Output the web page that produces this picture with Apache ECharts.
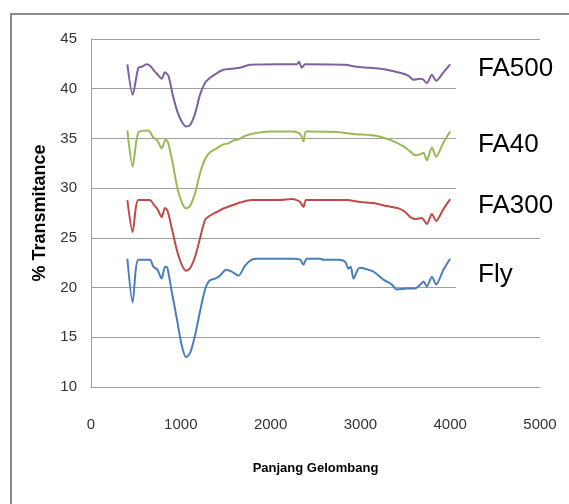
<!DOCTYPE html>
<html>
<head>
<meta charset="utf-8">
<script src="https://cdn.jsdelivr.net/npm/echarts@6/dist/echarts.min.js"></script>
<style>
html,body{margin:0;padding:0;background:#fff;}
#chart{width:569px;height:504px;}
</style>
</head>
<body>
<div id="chart"></div>
<script>
// Series labels (right side)
const seriesNames = ['Fly', 'FA300', 'FA40', 'FA500'];
// Axis ranges / ticks
const xTicks = [0, 1000, 2000, 3000, 4000, 5000];
const yTicks = [10, 15, 20, 25, 30, 35, 40, 45];

// Fly (blue)
const flyX = [405,464,527,657,694,739,787,824,850,899,955,1010,1058,1103,1159,1214,1270,1319,1382,1437,1504,1567,1642,1716,1790,1846,2032,2106,2254,2329,2366,2403,2552,2589,2756,2830,2867,2893,2923,2990,3053,3146,3257,3350,3406,3518,3610,3666,3703,3740,3796,3844,3925,4000];
const flyY = [22.9,18.5,22.8,22.8,22.1,21.8,20.9,22.1,22.0,19.6,16.9,14.2,13.0,13.4,15.2,17.6,19.8,20.7,20.9,21.2,21.8,21.6,21.2,22.2,22.8,22.9,22.9,22.9,22.9,22.8,22.3,22.9,22.9,22.8,22.8,22.6,21.9,22.1,20.9,22.0,21.9,21.6,20.8,20.3,19.8,19.9,19.9,20.3,20.6,20.1,21.1,20.3,21.8,22.9];

// FA300 (red)
const fa300X = [405,464,527,657,694,739,787,824,850,899,955,1010,1058,1103,1159,1214,1270,1319,1400,1474,1549,1660,1790,2106,2236,2291,2329,2366,2396,2849,2998,3146,3294,3424,3499,3554,3610,3684,3740,3796,3844,3925,4000];
const fa300Y = [28.8,25.6,28.8,28.8,28.4,27.9,27.1,28.0,27.8,26.0,23.8,22.3,21.7,21.95,23.1,24.95,26.8,27.2,27.6,27.95,28.2,28.55,28.8,28.8,28.9,28.8,28.6,28.1,28.8,28.8,28.6,28.5,28.2,27.97,27.6,27.1,26.9,27.0,26.4,27.4,26.7,27.9,28.9];

// FA40 (green)
const fa40X = [405,464,527,639,694,739,787,832,858,910,962,1010,1058,1103,1159,1214,1270,1326,1400,1474,1530,1586,1642,1716,1809,1994,2106,2254,2329,2366,2396,2737,2923,3183,3331,3480,3554,3610,3666,3703,3740,3796,3844,3925,4000];
const fa40Y = [35.8,32.15,35.6,35.8,35.1,34.8,34.0,34.9,34.6,32.5,30.0,28.6,27.97,28.2,29.5,31.5,32.9,33.6,34.0,34.4,34.5,34.8,34.9,35.25,35.5,35.7,35.7,35.7,35.45,34.7,35.7,35.65,35.45,35.25,34.85,34.2,33.7,33.3,33.4,33.55,32.8,34.1,33.15,34.6,35.7];

// FA500 (purple)
const fa500X = [405,464,527,564,620,657,694,739,787,824,862,910,962,1010,1058,1103,1159,1214,1270,1326,1400,1474,1567,1660,1772,2106,2292,2317,2347,2385,2830,2960,3109,3294,3461,3536,3591,3666,3703,3740,3796,3844,3925,4000];
const fa500Y = [42.45,39.4,42.1,42.2,42.45,42.3,41.9,41.45,41.0,41.65,41.3,39.4,37.7,36.7,36.2,36.35,37.5,39.4,40.6,41.1,41.55,41.9,42.0,42.1,42.4,42.45,42.45,42.7,42.1,42.45,42.4,42.2,42.1,41.9,41.55,41.3,40.9,41.0,40.9,40.55,41.4,40.8,41.65,42.45];

const zip = (xs, ys) => xs.map((x, i) => [x, ys[i]]);

const chart = echarts.init(document.getElementById('chart'), null, {renderer: 'canvas'});

const lineSeries = (name, xs, ys, color) => ({
  name: name, type: 'line', data: zip(xs, ys), showSymbol: false, symbol: 'none',
  lineStyle: {color: color, width: 2}, itemStyle: {color: color}, smooth: 0.25, z: 3
});

const labelBox = (text, cy, top, bottom) => ([
  {type: 'rect', z: 50, shape: {x: 456, y: top, width: 100, height: bottom - top}, style: {fill: '#fff', stroke: null}},
  {type: 'text', z: 51, left: 478, top: cy - 15, style: {text: text, fontFamily: 'Liberation Sans, Arial, sans-serif', fontSize: 26, fill: '#000'}}
]);

chart.setOption({
  animation: false,
  backgroundColor: '#fff',
  grid: {left: 91, right: 29, top: 39, bottom: 117, containLabel: false},
  xAxis: {
    type: 'value', min: xTicks[0], max: xTicks[xTicks.length - 1], interval: 1000,
    name: 'Panjang Gelombang', nameLocation: 'middle', nameGap: 75,
    nameTextStyle: {fontFamily: 'Liberation Sans, Arial, sans-serif', fontWeight: 'bold', fontSize: 13, color: '#000'},
    axisLine: {show: true, lineStyle: {color: '#a0a0a0', width: 1}},
    axisTick: {show: false},
    splitLine: {show: false},
    axisLabel: {margin: 30, formatter: v => String(v), fontFamily: 'Liberation Sans, Arial, sans-serif', fontSize: 15, color: '#333'}
  },
  yAxis: {
    type: 'value', min: yTicks[0], max: yTicks[yTicks.length - 1], interval: 5,
    name: '% Transmitance', nameLocation: 'middle', nameGap: 40, nameRotate: 90,
    nameTextStyle: {fontFamily: 'Liberation Sans, Arial, sans-serif', fontWeight: 'bold', fontSize: 18, color: '#000'},
    axisLine: {show: true, lineStyle: {color: '#a0a0a0', width: 1}},
    axisTick: {show: false},
    splitLine: {show: true, lineStyle: {color: '#a0a0a0', width: 1}},
    axisLabel: {margin: 14, formatter: v => String(v), fontFamily: 'Liberation Sans, Arial, sans-serif', fontSize: 15, color: '#333'}
  },
  graphic: [
    {type: 'rect', z: 60, silent: true, shape: {x: 11, y: 14, width: 620, height: 560}, style: {fill: null, stroke: '#8a8a8a', lineWidth: 2}},
    ...labelBox(seriesNames[3], 71, 50, 96),
    ...labelBox(seriesNames[2], 147, 123, 170),
    ...labelBox(seriesNames[1], 208, 184, 232),
    ...labelBox(seriesNames[0], 277, 252, 300)
  ],
  series: [
    lineSeries(seriesNames[0], flyX, flyY, '#4A7EBB'),
    lineSeries(seriesNames[1], fa300X, fa300Y, '#BE4B48'),
    lineSeries(seriesNames[2], fa40X, fa40Y, '#98B954'),
    lineSeries(seriesNames[3], fa500X, fa500Y, '#7D60A0')
  ]
});
</script>
</body>
</html>
